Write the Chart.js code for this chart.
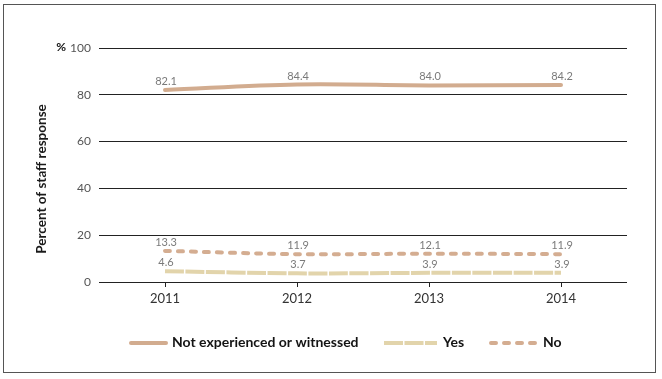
<!DOCTYPE html>
<html>
<head>
<meta charset="utf-8">
<script src="https://cdn.jsdelivr.net/npm/chart.js@4/dist/chart.umd.min.js"></script>
<style>
html,body{margin:0;padding:0;background:#fff;}
#wrap{position:relative;width:662px;height:379px;}
#frame{position:absolute;left:3px;top:4px;width:653px;height:369px;border:1px solid #555;box-sizing:border-box;pointer-events:none;}
canvas{display:block;}
</style>
</head>
<body>
<div id="wrap">
<canvas id="c" width="662" height="379"></canvas>
<div id="frame"></div>
</div>
<script>
const categories = ['2011', '2012', '2013', '2014'];
const notExperienced = [82.1, 84.4, 84.0, 84.2];
const yesValues = [4.6, 3.7, 3.9, 3.9];
const noValues = [13.3, 11.9, 12.1, 11.9];
const yTicks = [0, 20, 40, 60, 80, 100];
const seriesNames = ['Not experienced or witnessed', 'Yes', 'No'];

const FONT = 'Lato, "Open Sans", sans-serif';

const labelPlugin = {
  id: 'labels',
  afterDatasetsDraw(chart) {
    const ctx = chart.ctx;
    ctx.save();
    ctx.font = '11px ' + FONT;
    ctx.fillStyle = '#7a7a7a';
    ctx.textAlign = 'center';
    ctx.textBaseline = 'bottom';
    chart.data.datasets.forEach((ds, i) => {
      const meta = chart.getDatasetMeta(i);
      meta.data.forEach((pt, j) => {
        ctx.fillText(ds.data[j].toFixed(1), pt.x + 1, pt.y - 3);
      });
    });
    ctx.restore();
  }
};

const decorPlugin = {
  id: 'decor',
  afterDraw(chart) {
    const ctx = chart.ctx;
    const y = chart.scales.y;
    ctx.save();
    ctx.font = 'bold 12px ' + FONT;
    ctx.fillStyle = '#111';
    ctx.textAlign = 'right';
    ctx.textBaseline = 'middle';
    ctx.fillText('%', 66, y.getPixelForValue(100) - 1);
    ctx.translate(42, 179);
    ctx.rotate(-Math.PI / 2);
    ctx.font = 'bold 13.5px ' + FONT;
    ctx.fillStyle = '#1a1a1a';
    ctx.textAlign = 'center';
    ctx.textBaseline = 'middle';
    ctx.fillText('Percent of staff response', 0, 0);
    ctx.restore();

    const items = [
      {x0: 131, x1: 166, tx: 172},
      {x0: 384, x1: 437, tx: 443},
      {x0: 491, x1: 537, tx: 543}
    ];
    const ly = 343;
    ctx.save();
    chart.data.datasets.forEach((ds, i) => {
      const it = items[i];
      ctx.beginPath();
      ctx.strokeStyle = ds.borderColor;
      ctx.lineWidth = ds.borderWidth;
      ctx.lineCap = ds.borderCapStyle || 'butt';
      ctx.setLineDash(ds.borderDash || []);
      ctx.moveTo(it.x0, ly);
      ctx.lineTo(it.x1, ly);
      ctx.stroke();
      ctx.setLineDash([]);
      ctx.font = 'bold 14px ' + FONT;
      ctx.fillStyle = '#141414';
      ctx.textAlign = 'left';
      ctx.textBaseline = 'middle';
      ctx.fillText(ds.label, it.tx, ly - 1);
    });
    ctx.restore();
  }
};

new Chart(document.getElementById('c'), {
  type: 'line',
  data: {
    labels: categories,
    datasets: [
      {label: seriesNames[0], data: notExperienced, borderColor: '#d2ac8f', borderWidth: 4, borderCapStyle: 'round', pointRadius: 0, tension: 0.35, fill: false},
      {label: seriesNames[1], data: yesValues, borderColor: '#e2d4ab', borderWidth: 4, borderCapStyle: 'butt', borderDash: [19, 1.5], pointRadius: 0, tension: 0.3, fill: false},
      {label: seriesNames[2], data: noValues, borderColor: '#d4ad91', borderWidth: 4, borderCapStyle: 'round', borderDash: [5, 8], pointRadius: 0, tension: 0.3, fill: false}
    ]
  },
  options: {
    responsive: false,
    animation: false,
    devicePixelRatio: 1,
    layout: {padding: {left: 0, right: 35, top: 48, bottom: 67}},
    plugins: {legend: {display: false}, tooltip: {enabled: false}},
    scales: {
      x: {
        offset: true,
        grid: {offset: false, drawOnChartArea: false, drawTicks: true, tickLength: 5, color: '#222', lineWidth: 1},
        border: {display: false},
        ticks: {color: '#333', font: {size: 13, family: FONT}, padding: 4},
        afterFit(s) { s.height = 30; }
      },
      y: {
        min: 0, max: 100,
        afterBuildTicks(s) { s.ticks = yTicks.map(v => ({value: v})); },
        grid: {drawTicks: false, color: '#222', lineWidth: 1},
        border: {display: false},
        ticks: {color: '#555', font: {size: 12, family: FONT}, padding: 8},
        afterFit(s) { s.width = 99; }
      }
    }
  },
  plugins: [labelPlugin, decorPlugin]
});
</script>
</body>
</html>
